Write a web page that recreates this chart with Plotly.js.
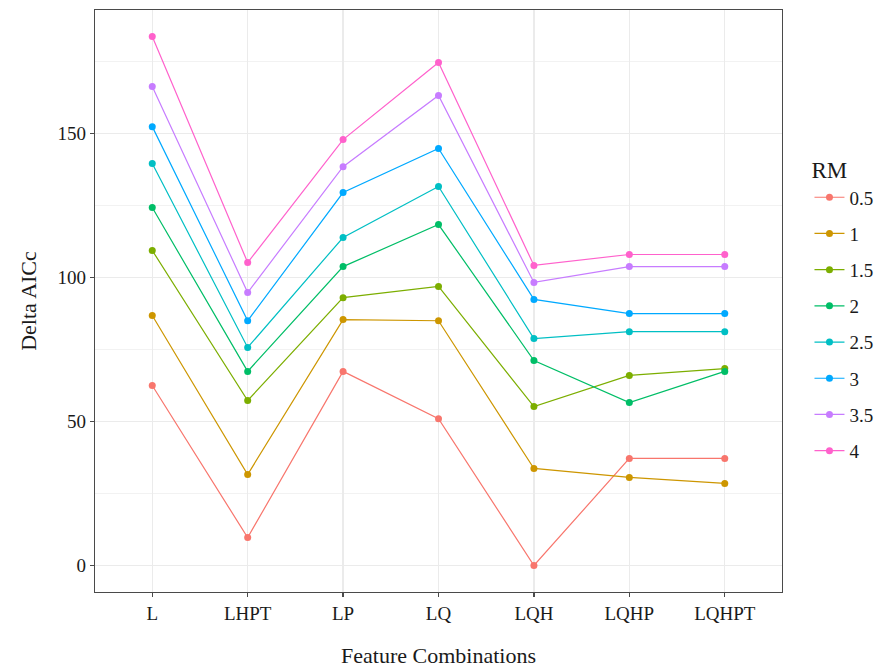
<!DOCTYPE html>
<html>
<head>
<meta charset="utf-8">
<script src="https://cdn.plot.ly/plotly-3.0.1.min.js"></script>
<style>html,body{margin:0;padding:0;background:#fff;}#chart{width:888px;height:672px;}</style>
</head>
<body>
<div id="chart"></div>
<script>
const categories = ["L", "LHPT", "LP", "LQ", "LQH", "LQHP", "LQHPT"];
const rmLevels = ["0.5", "1", "1.5", "2", "2.5", "3", "3.5", "4"];
const rm05 = [62.5, 9.7, 67.4, 51.0, 0.0, 37.2, 37.2];
const rm1  = [86.8, 31.6, 85.4, 85.0, 33.7, 30.6, 28.5];
const rm15 = [109.4, 57.3, 93.0, 96.9, 55.2, 66.0, 68.4];
const rm2  = [124.3, 67.4, 103.8, 118.4, 71.2, 56.6, 67.4];
const rm25 = [139.6, 75.7, 113.9, 131.6, 78.8, 81.2, 81.2];
const rm3  = [152.4, 85.0, 129.5, 144.8, 92.4, 87.5, 87.5];
const rm35 = [166.3, 94.8, 138.5, 163.2, 98.3, 103.8, 103.8];
const rm4  = [183.7, 105.2, 147.9, 174.7, 104.2, 108.0, 108.0];
const yTicks = [0, 50, 100, 150];

const seriesValues = [rm05, rm1, rm15, rm2, rm25, rm3, rm35, rm4];
const colors = ["#F8766D", "#CD9600", "#7CAE00", "#00BE67", "#00BFC4", "#00A9FF", "#C77CFF", "#FF61CC"];

const traces = seriesValues.map((vals, i) => ({
  type: "scatter",
  mode: "lines+markers",
  x: categories,
  y: vals,
  name: rmLevels[i],
  legendgroup: "g" + i,
  line: {color: colors[i], width: 1.2},
  marker: {color: colors[i], size: 7},
  hoverinfo: "x+y+name"
}));

const font = "Liberation Serif";

const layout = {
  width: 888,
  height: 672,
  margin: {l: 95, r: 106, t: 10, b: 80, autoexpand: false},
  paper_bgcolor: "#ffffff",
  plot_bgcolor: "#ffffff",
  font: {family: font, color: "#1a1a1a", size: 19},
  showlegend: true,
  legend: {
    x: 1.04, xanchor: "left",
    y: 0.762, yanchor: "top",
    title: {text: "RM", font: {family: font, size: 23, color: "#1a1a1a"}},
    font: {family: font, size: 19, color: "#1a1a1a"},
    tracegroupgap: 8.5,
    itemwidth: 30,
    bgcolor: "rgba(0,0,0,0)"
  },
  xaxis: {
    type: "category",
    categoryorder: "array",
    categoryarray: categories,
    range: [-0.6, 6.6],
    showgrid: true,
    gridcolor: "#EBEBEB",
    gridwidth: 1.2,
    showline: true,
    linecolor: "#4a4a4a",
    linewidth: 1.3,
    mirror: true,
    ticks: "outside",
    ticklen: 4,
    tickwidth: 1.2,
    tickcolor: "#4a4a4a",
    tickfont: {family: font, size: 19, color: "#1a1a1a"},
    zeroline: false,
    title: {text: "Feature Combinations", font: {family: font, size: 22, color: "#1a1a1a"}, standoff: 24}
  },
  yaxis: {
    range: [-9.2, 192.9],
    tickvals: yTicks,
    ticktext: yTicks.map(String),
    showgrid: true,
    gridcolor: "#EBEBEB",
    gridwidth: 1.2,
    minor: {dtick: 25, tick0: 0, showgrid: true, gridcolor: "#EFEFEF", gridwidth: 0.8, ticks: ""},
    showline: true,
    linecolor: "#4a4a4a",
    linewidth: 1.3,
    mirror: true,
    ticks: "outside",
    ticklen: 4,
    tickwidth: 1.2,
    tickcolor: "#4a4a4a",
    tickfont: {family: font, size: 19, color: "#1a1a1a"},
    zeroline: false,
    title: {text: "Delta AICc", font: {family: font, size: 22, color: "#1a1a1a"}, standoff: 14}
  }
};

Plotly.newPlot("chart", traces, layout, {displayModeBar: false, staticPlot: true});
</script>
</body>
</html>
